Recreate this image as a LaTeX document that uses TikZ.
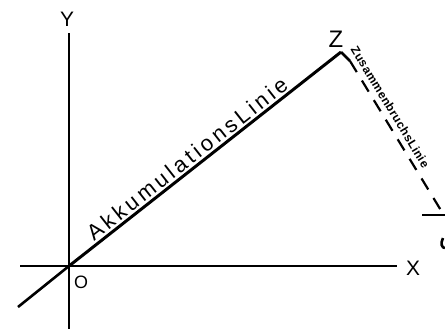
\documentclass[tikz,border=0pt]{standalone}
\usepackage{fontspec}
\setmainfont{Liberation Sans}
\usetikzlibrary{positioning}
\tikzset{
  axisline/.style={line width=2.6pt},
  accline/.style={line width=3pt},
  breakline/.style={line width=2.2pt, dash pattern=on 13pt off 10pt},
  axislabel/.style={font=\fontsize{21}{23}\selectfont, inner sep=0pt},
}

\begin{document}
\begin{tikzpicture}[x=1bp, y=-1bp]
  \useasboundingbox (0,0) rectangle (445,329);
  % axes
  \coordinate (O) at (69,266);
  \coordinate (ytop) at (69,33);
  \coordinate (ybot) at (69,329);
  \coordinate (xleft) at (20,266);
  \coordinate (xright) at (397,266);
  \coordinate (zback) at (18,307);
  \draw[axisline] (ytop) -- (ybot);
  \draw[axisline] (xleft) -- (xright);
  \draw[axisline] (zback) -- (O);
  \node[axislabel] (ylab) at (67,19) {Y};
  \node[axislabel] (xlab) at (413,268) {X};
  \node[axislabel, font=\fontsize{18}{20}\selectfont] (olab) at (81,282) {O};
  % lines
  \coordinate (Z) at (341,52);
  \coordinate (bend) at (350,61);
  \coordinate (zend) at (445,217);
  \node[axislabel, font=\fontsize{24}{26}\selectfont] (zlab) at (336,39) {Z};
  \draw[accline] (O) -- (Z)
    node[pos=0.46, sloped, above, inner sep=2pt,
      font=\fontsize{22}{24}\selectfont\addfontfeatures{LetterSpace=16}] (acclab) {AkkumulationsLinie};
  \draw[axisline] (Z) -- (bend);
  \draw[breakline] (bend) -- (zend)
    node[pos=0.33, sloped, above, inner sep=5pt,
      font=\fontsize{12}{13}\selectfont\bfseries\addfontfeatures{LetterSpace=4}] (breaklab) {ZusammenbruchsLinie};
  \coordinate (tickl) at (422,215);
  \coordinate (tickr) at (445,215);
  \draw[axisline] (tickl) -- (tickr);
  \draw[axisline] (443,238) .. controls (440,244) and (442,248) .. (445,248);
\end{tikzpicture}
\end{document}
